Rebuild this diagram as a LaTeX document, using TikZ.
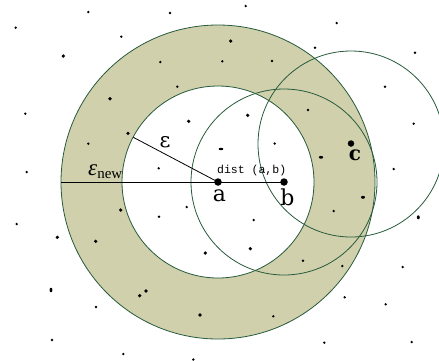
\documentclass[tikz,border=0pt]{standalone}
\usepackage{fontspec}
\setmainfont{DejaVu Serif}
\newfontfamily\timesf{Liberation Serif}
\newfontfamily\monof{Liberation Mono}
\definecolor{ringfill}{RGB}{208,209,172}
\definecolor{ringline}{RGB}{40,90,60}
\tikzset{
  ringcirc/.style={draw=ringline, line width=0.8pt},
  bigdot/.style={circle, fill=black, inner sep=0pt, minimum size=7.5pt},
  cdot/.style={circle, fill=black, inner sep=0pt, minimum size=6.5pt},
  segline/.style={draw=black, line width=0.8pt},
  ptlabel/.style={font=\fontsize{22}{22}\selectfont, inner sep=0pt},
}
\newcommand{\sdot}[2]{\fill (#1,#2) circle[radius=1.3pt];}
\newcommand{\mdot}[2]{\fill (#1,#2) circle[radius=1.8pt];}
\begin{document}
\begin{tikzpicture}[x=1pt,y=-1pt]
\useasboundingbox (0,0) rectangle (439,360);
\clip (0,0) rectangle (439,360);
% annulus
\fill[ringfill, even odd rule] (218,182) circle[radius=157pt] (218,182) circle[radius=96pt];
\draw[ringcirc] (218,182) circle[radius=157pt];
\draw[ringcirc] (218,182) circle[radius=96pt];
\draw[ringcirc] (284,182) circle[radius=93pt];
\draw[ringcirc] (351,144) circle[radius=93pt];
% points
\node[bigdot] (a) at (218,182) {};
\node[bigdot] (b) at (284,182) {};
\node[cdot] (c) at (351,143.5) {};
\coordinate (outerleft) at (61,182);
\coordinate (epsend) at (133.3,137.3);
\draw[segline] (outerleft) -- (b.center);
\draw[segline] (a.center) -- (epsend);
% labels
\node[ptlabel] (la) at (219.5,195.5) {a};
\node[ptlabel] (lb) at (287.5,197) {b};
\node[font=\fontsize{20}{20}\selectfont\bfseries, inner sep=0pt] (lc) at (355,155) {c};
\node[font=\fontsize{21}{21}\selectfont, inner sep=0pt] (leps) at (165,142.5) {ε};
\node[inner sep=0pt, anchor=base west] (lepsnew) at (88,175.5) {\timesf\fontsize{23}{23}\selectfont\itshape ε\upshape\fontsize{15}{15}\selectfont\raisebox{-3pt}{new}};
\node[font=\monof\fontsize{11.5}{11.5}\selectfont, inner sep=0pt] (ldist) at (251.7,170.5) {dist (a,b)};
% scattered points
\sdot{88.3}{12}\sdot{170}{13}\sdot{15.7}{27.7}\sdot{121.3}{36.7}\sdot{160.3}{62}
\sdot{177.3}{86.7}\sdot{25.3}{113.7}\sdot{88.3}{143.7}\sdot{26.7}{172}\sdot{158.7}{168.3}
\sdot{245.7}{6}\sdot{336.7}{23}\sdot{315}{47.7}\sdot{415}{52.7}\sdot{222.3}{61.3}
\sdot{272}{61}\sdot{385}{86.7}\sdot{308}{110}\sdot{413.7}{123.7}\sdot{274.7}{143.5}
\sdot{393.7}{169}\sdot{186.7}{207}\sdot{159}{216.7}\sdot{16.7}{224}\sdot{96}{307}
\sdot{52}{340}\sdot{123.3}{354}\sdot{193.3}{359.5}\sdot{253.7}{220}\sdot{333.7}{211}
\sdot{303}{260.7}\sdot{342.3}{266}\sdot{402.7}{267}\sdot{344.7}{297.3}\sdot{385.7}{304.3}
\sdot{273.3}{316.3}\sdot{324.3}{342.7}\sdot{411.7}{342}
\mdot{63.3}{56}\mdot{110}{98.7}\mdot{188.7}{121.3}\mdot{128}{133.3}\mdot{230.7}{41}
\mdot{247.7}{115.3}\mdot{120.7}{210}\mdot{57.3}{237.3}\mdot{95.7}{241.3}\mdot{205.3}{253}
\mdot{146}{291}\mdot{139.7}{295.7}\mdot{200}{315}\mdot{250.3}{248.7}
\fill (51,290) ellipse[x radius=1.4pt, y radius=2.3pt];
\fill (363,197.3) ellipse[x radius=2pt, y radius=1.5pt];
\fill (418.3,217.3) ellipse[x radius=1.5pt, y radius=2pt];
\fill (221,149) ellipse[x radius=2.4pt, y radius=1.2pt];
\fill (321,157.3) ellipse[x radius=2.2pt, y radius=1.4pt];
\end{tikzpicture}
\end{document}
